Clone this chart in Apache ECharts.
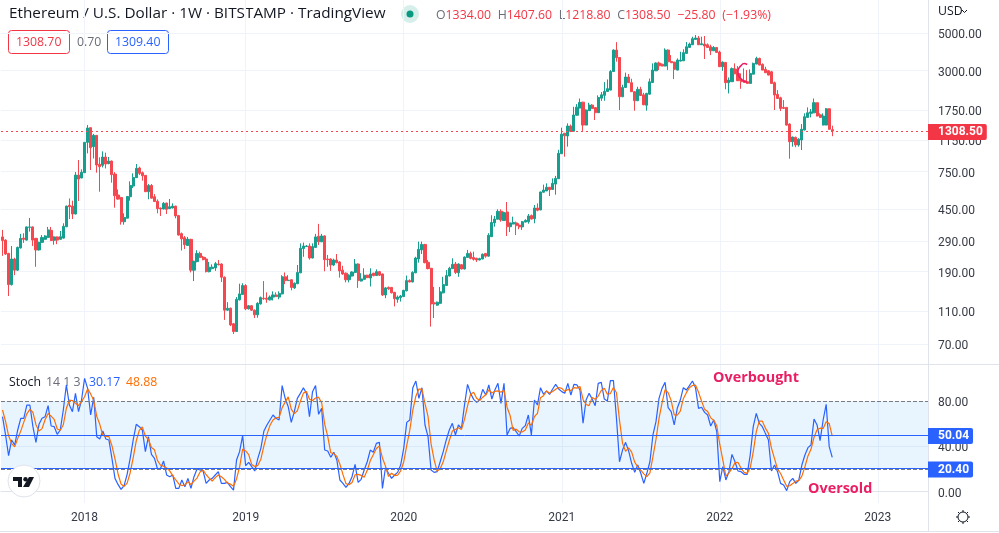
<!DOCTYPE html>
<html>
<head>
<meta charset="utf-8">
<title>ETHUSD 1W</title>
<script src="https://cdn.jsdelivr.net/npm/echarts@6/dist/echarts.min.js"></script>
<style>
  html, body { margin: 0; padding: 0; background: #fff; }
  #chart { width: 999px; height: 533px; }
</style>
</head>
<body>
<div id="chart"></div>
<script>
var fontName = 'Roboto';
var upColor = '#189e8e';
var downColor = '#f44850';
var gridColor = '#f0f3fa';
var borderColor = '#e0e3eb';
var textColor = '#363a45';
var blue = '#2962ff';
var orange = '#ff6d00';
var pink = '#e91e63';

// weekly bars: open, close, low, high
var candles = [
  [306,291,236,337],[293,242,239,296],[244,159,136,246],[159,226,157,270],[226,194,181,230],[194,265,192,268],
  [263,300,261,319],[301,296,282,322],[293,351,291,353],[349,351,329,397],[351,293,270,353],[300,256,203,302],
  [256,284,254,286],[284,304,282,314],[296,310,294,314],[304,337,302,351],[335,291,289,351],[292,306,275,309],
  [306,293,277,308],[296,307,294,332],[301,354,299,369],[352,467,350,470],[472,463,391,519],[467,419,391,503],
  [419,715,417,746],[715,677,501,879],[687,743,685,773],[739,1120,737,1125],[1120,1363,963,1422],[1370,1041,766,1375],
  [1056,1233,898,1258],[1233,821,739,1238],[829,802,569,912],[817,916,794,990],[916,832,783,972],[836,867,830,916],
  [867,719,644,872],[725,539,457,745],[544,514,510,587],[526,377,362,530],[377,400,362,423],[396,533,394,536],
  [531,620,503,656],[615,692,598,732],[690,784,688,832],[788,732,715,802],[738,708,662,751],[712,569,567,715],
  [569,620,513,632],[620,521,519,632],[531,497,495,551],[499,451,423,512],[455,449,408,457],[449,485,447,494],
  [487,447,419,489],[451,463,449,515],[455,467,453,485],[467,408,395,469],[410,314,312,414],[320,298,254,325],
  [303,275,259,310],[272,297,270,306],[296,194,188,298],[194,219,167,221],[218,244,216,255],[244,231,229,250],
  [232,224,222,236],[226,190,188,232],[190,202,188,217],[198,202,196,210],[200,212,192,217],[211,209,207,223],
  [211,176,165,213],[176,112,98,178],[112,115,111,125],[115,91.5,90,116],[93,83.5,80.8,94],[83.5,130,83,134],
  [129,140,128,161],[139,157,138,162],[157,114,112,160],[114,119,113,120],[119,112,111,120],[112,105,100.5,113],
  [105,123,101,125],[122,133,121,135],[132,131,129,167],[132,130,124,143],[129,134,128,137],[134,138,128,145],
  [138,135,134,143],[134,141,130,145],[140,177,139,181],[177,168,160,188],[168,169,167,181],[170,153,147,171],
  [152,162,150,164],[161,188,160,208],[187,262,186,280],[261,270,233,283],[268,270,267,274],[270,229,224,280],
  [229,268,228,280],[265,306,264,319],[309,286,274,366],[286,310,285,319],[310,224,191,313],[226,224,203,239],
  [226,208,192,228],[208,223,205,227],[223,215,213,242],[217,192,175,219],[194,184,182,206],[186,170,164,188],
  [170,181,164,183],[179,189,178,191],[188,211,186,226],[211,168,152,213],[167,172,166,186],[171,181,170,199],
  [181,175,174,182],[174,184,155,199],[186,180,178,187],[180,190,179,196],[190,181,179,192],[184,138,136,185],
  [138,152,132,154],[153,150,148,155],[153,142,141,154],[143,131,118,144],[130,134,124,137],[133,136,126,138],
  [135,147,134,148],[146,168,145,180],[168,165,164,171],[165,188,164,191],[187,229,186,233],[226,258,215,287],
  [256,276,242,287],[276,215,213,278],[216,198,196,223],[199,122,89.4,200],[124,122,100.5,154],[120,125,119,126],
  [123,144,122,154],[142,159,141,177],[157,180,156,194],[179,199,178,203],[198,210,197,228],[211,188,184,217],
  [187,211,177,213],[209,197,196,211],[197,232,196,234],[231,244,230,256],[244,228,225,250],[231,225,221,250],
  [228,223,217,230],[223,227,222,230],[226,241,225,244],[244,235,230,245],[235,313,234,322],[307,373,306,412],
  [371,391,352,408],[390,435,389,447],[435,386,377,447],[383,427,382,433],[431,352,310,494],[352,371,327,373],
  [365,373,364,404],[371,357,314,378],[360,351,340,369],[351,377,337,381],[375,384,374,390],[377,408,367,419],
  [410,391,389,416],[393,455,369,474],[455,441,435,485],[443,567,442,569],[565,582,562,627],[575,605,574,638],
  [605,585,536,607],[587,638,586,683],[632,683,546,707],[680,963,678,1012],[958,1253,957,1370],[1270,1225,920,1272],
  [1222,1402,1056,1454],[1402,1302,1290,1430],[1305,1630,1300,1825],[1625,1815,1620,1893],[1795,1937,1790,2045],[1945,1420,1310,1950],
  [1420,1746,1415,1762],[1730,1868,1725,1928],[1868,1780,1775,1893],[1805,1683,1522,1810],[1683,2075,1680,2135],[2055,2150,1980,2235],
  [2135,2255,1983,2560],[2250,2340,2240,2655],[2295,2960,2290,3020],[2960,3975,2950,4015],[3975,3575,3390,4430],[3590,2094,1746,3600],
  [2094,2380,2085,2470],[2380,2745,2370,2915],[2745,2540,2530,2860],[2540,2245,2235,2680],[2245,1983,1730,2260],[1983,2320,1975,2402],
  [2320,2130,2120,2402],[2150,1875,1865,2210],[1865,2192,1730,2210],[2170,2570,2160,2690],[2545,3020,2540,3310],[2990,3325,2985,3360],
  [3325,3205,3020,3390],[3275,3190,3180,3310],[3190,3975,3180,4070],[3975,3385,3020,4015],[3400,3340,3330,3710],[3370,3050,2670,3380],
  [3020,3465,3010,3545],[3415,3465,3405,3885],[3430,3835,3420,4015],[3797,4161,3790,4440],[4120,4315,4110,4400],[4275,4645,4265,4774],
  [4600,4690,4590,4885],[4690,4275,4265,4820],[4275,4335,4265,4774],[4315,4200,3515,4820],[4275,4120,4110,4356],[4161,3935,3710,4275],
  [3935,4120,3925,4200],[4120,3850,3840,4130],[3870,3162,3150,3940],[3162,3370,2990,3400],[3355,2540,2320,3365],[2540,2633,2192,2730],
  [2575,3080,2565,3130],[3065,2870,2860,3310],[2885,2610,2600,3190],[2633,2575,2335,2885],[2610,2550,2540,3090],[2575,2515,2505,3020],
  [2515,2885,2505,3050],[2855,3310,2845,3345],[3280,3545,3270,3627],[3545,3235,3225,3580],[3265,3020,3010,3310],[3050,2910,2900,3162],
  [2990,2820,2810,3020],[2950,2515,2505,2990],[2540,2145,1746,2580],[2165,2045,2035,2295],[2065,1785,1722,2094],[1810,1785,1775,2000],
  [1810,1420,1410,1815],[1440,1130,895,1454],[1130,1205,1056,1211],[1200,1080,1048,1211],[1080,1170,1056,1185],[1157,1340,1008,1440],
  [1327,1593,1320,1668],[1578,1680,1575,1810],[1668,1700,1578,1770],[1680,1930,1675,2045],[1930,1608,1600,1935],[1635,1578,1570,1670],
  [1420,1608,1415,1668],[1420,1775,1415,1795],[1775,1340,1335,1790],[1334,1308.5,1218.8,1407.6]
];

var stochK = [
  66.1,50,31.7,45.6,41.1,54.4,64.7,64.7,76.4,76.4,57.3,43.5,59.4,64.7,66.1,75.8,57.9,57.3,50.6,54.4,
  72,94.1,76.4,70.5,86.7,70.5,80.8,99.9,91.1,67.6,83.2,48.5,46.4,53.5,46.4,45.6,29.4,11.7,6.4,2,
  5.3,15.3,29.4,45.6,59.4,57.3,54.4,35.3,48.5,32.9,29.4,20,20.6,27,14.7,13.2,14.7,2.9,2.9,10.3,
  4.4,11.7,2.9,13.2,20,19.1,18.2,7.3,10.3,11.7,14.7,17.6,7.3,7.3,8.2,4.4,1.4,27.9,35.3,49.4,
  22.9,25.9,22,18.2,29.4,38.2,53.5,58.8,63.2,67.6,64.7,63.2,93.5,82.3,74.9,61.1,70.5,82.3,86.7,91.7,
  86.7,66.1,88.2,93.5,68.2,73.5,36.7,35.9,30.3,34.7,27.9,10.3,7.3,3.8,7.3,13.2,24.1,8.2,10.9,19.1,
  26.4,36.7,34.7,42.6,43.5,2.9,21.1,16.2,11.7,14.7,17,23.5,38.2,61.1,63.2,91.7,97.6,82.3,91.7,58.8,
  48.5,19.1,17,17.6,26.4,35.3,45.6,54.4,60.3,50,58.8,55.8,76.4,94.6,86.7,81.4,78.8,80.8,90.2,85.2,
  94.1,81.7,89.6,95.5,77.9,95.5,50,55.8,56.4,52.9,49.1,55.8,58.2,67.6,50,80.8,76.4,91.7,85.8,88.8,
  85.8,90.5,94.6,90.5,88.2,86.7,95.5,85.2,94.6,94.1,89.6,60.3,80.8,86.7,81.7,75.8,95.5,96.4,81.7,79.9,
  97.9,97.9,64.7,26.4,36.7,43.5,35.9,25,17,23.5,16.2,7.3,16.2,26.4,50,61.7,82.3,91.1,96.4,74.1,
  70.5,58.8,73.5,80.8,91.7,89.6,93.5,97.6,91.7,73.5,74.4,69.9,67.6,57.9,63.2,52.9,8.8,22,10.3,17.6,
  32.9,26.4,18.2,17.6,15.3,15.3,32.3,57.3,69.1,60.3,57.3,51.4,45.6,18.2,23.5,17.6,7.3,5.9,0.9,8.8,
  11.7,7.3,10.3,23.5,32.3,38.8,41.1,64.1,58.8,45,63.2,77,39.7,30.17
];

var stochD = [
  72,62,49.3,42.4,39.5,47,53.4,61.3,68.6,72.5,70,59.1,53.4,55.6,63.4,68.9,66.6,63.7,55.3,54.1,
  59,73.5,80.8,80.4,77.9,75.9,79.3,83.7,90.6,86.2,80.6,66.4,59.4,49.5,48.8,48.5,40.5,28.9,15.8,6.7,
  4.6,7.5,16.7,30.1,44.8,54.1,57,49,46,38.9,36.9,27.4,23.3,22.5,20.8,18.3,14.2,10.3,6.8,5.4,
  5.9,8.8,6.3,9.3,12,17.4,19.1,14.9,12,9.3,12.4,14.7,13.2,10.8,7.6,6.6,4.7,11.2,21.6,37.5,
  35.9,32.7,23.9,22.1,23.2,28.6,40.4,50.5,58.5,63.2,65.2,65.5,74.1,79,83.6,72.8,68.8,71.3,79.8,86.9,
  88.4,81.5,80.4,82.6,83.3,78.4,59.5,48.7,34.3,33.6,31,24.3,15.2,7.1,6.1,8.1,14.9,15.2,14.4,12.7,
  18.8,27.4,32.6,38,40.3,29.7,22.5,13.4,16.3,14.2,14.5,18.4,26.2,40.9,54.2,72,84.2,90.5,90.5,77.6,
  66.3,42.1,28.2,17.9,20.3,26.3,35.9,45.1,53.4,54.9,56.4,54.9,63.7,75.6,85.9,87.6,82.3,80.3,83.3,85.4,
  89.8,87,88.5,88.9,87.7,89.6,74.5,67.1,54.1,55.1,52.8,52.6,54.4,60.5,58.6,66.1,69.1,82.9,84.6,88.8,
  86.8,88.4,90.3,91.9,91.1,88.5,90.1,89.1,91.8,91.3,92.8,81.3,76.9,75.9,83.1,81.4,84.3,89.2,91.2,86,
  86.5,91.9,87.2,63,42.6,35.5,38.7,34.8,26,21.8,18.9,15.7,13.3,16.6,30.9,46,64.7,78.4,90,87.2,
  80.3,67.8,67.5,71,82,87.3,91.6,93.6,94,87.6,79.9,72.6,70.6,65.1,62.9,58,41.6,27.9,13.7,16.6,
  20.3,25.6,25.8,20.7,17,16.1,21,35,53,62.2,62.2,56,51.4,38.4,29.1,19.8,16,10.3,4.7,5.2,
  7.1,9.3,9.8,13.7,22,31.5,37.3,48,54.6,56,55.7,61.7,60,48.88
];

// pen scribble left on the chart, [bar index, price]
var scribble = [[245,3260],[244,3300],[243,3215],[242,2990],[242,2870],[243,2680],[244,2590],[245,2565]];

// weekly axis, runs on past the last bar
var dates = [];
for (var i = 0; i < 305; i++) {
  dates.push(new Date(Date.UTC(2017, 5, 26 + i * 7)).toISOString().slice(0, 10));
}
function isYearStart(index) {
  var d = dates[index];
  return d.slice(5, 7) === '01' && Number(d.slice(8)) <= 7;
}

var yearLine = {
  show: true,
  alignWithLabel: true,
  interval: function (index) { return isYearStart(index); },
  lineStyle: { color: gridColor, width: 1 }
};

// tick label nudged down a little, as in the original
var priceLabel = {
  formatter: function (v) { return '{a|' + Number(v).toFixed(2) + '}'; },
  rich: { a: { color: textColor, fontSize: 12, fontFamily: fontName, padding: [4, 0, 0, 0] } },
  margin: 10
};

function tagLabel(text, color) {
  return {
    show: true, position: 'end', distance: 0, offset: [0, 1], formatter: text, color: '#fff', fontWeight: 'bold',
    fontSize: 12, fontFamily: fontName, backgroundColor: color, padding: [2, 4, 2, 10], borderRadius: [0, 2, 2, 0]
  };
}

function gearRay(a, b, c, d) {
  return { type: 'line', shape: { x1: a, y1: b, x2: c, y2: d }, style: { stroke: '#131722', lineWidth: 1 } };
}

function legendText(x, y, text, color) {
  return { type: 'text', x: x, y: y, style: { text: text, fill: color, font: '12.3px "Open Sans"' } };
}

var option = {
  animation: false,
  backgroundColor: '#fff',
  textStyle: { fontFamily: fontName },
  grid: [
    { left: 1, width: 927, top: 0, height: 364 },
    { left: 1, width: 927, top: 365, height: 138 }
  ],
  xAxis: [
    {
      type: 'category', gridIndex: 0, data: dates,
      axisLine: { show: false }, axisTick: { show: false }, axisLabel: { show: false },
      splitLine: yearLine
    },
    {
      type: 'category', gridIndex: 1, data: dates,
      axisLine: { show: true, lineStyle: { color: borderColor } },
      axisTick: { show: false },
      axisLabel: {
        interval: function (index) { return isYearStart(index); },
        formatter: function (value) { return value.slice(0, 4); },
        color: textColor, fontSize: 12, margin: 9, fontFamily: fontName
      },
      splitLine: yearLine
    }
  ],
  yAxis: [
    {
      type: 'log', logBase: 10, gridIndex: 0, position: 'right', min: 53.5, max: 7900,
      axisLine: { show: true, lineStyle: { color: borderColor } },
      axisTick: { show: false, customValues: [5000, 3000, 1750, 1150, 750, 450, 290, 190, 110, 70] },
      axisLabel: Object.assign({ customValues: [5000, 3000, 1750, 1150, 750, 450, 290, 190, 110, 70] }, priceLabel),
      splitLine: { show: true, lineStyle: { color: gridColor, width: 1 } }
    },
    {
      type: 'value', gridIndex: 1, position: 'right', min: -10, max: 111.7,
      axisLine: { show: true, lineStyle: { color: borderColor } },
      axisTick: { show: false, customValues: [0, 40] },
      axisLabel: Object.assign({ customValues: [0, 40, 80] }, priceLabel),
      splitLine: { show: true, lineStyle: { color: gridColor, width: 1 } }
    }
  ],
  series: [
    {
      name: 'ETHUSD', type: 'candlestick', xAxisIndex: 0, yAxisIndex: 0,
      data: candles, barWidth: 2.6, silent: true,
      itemStyle: { color: upColor, color0: downColor, borderColor: upColor, borderColor0: downColor, borderWidth: 1 },
      markLine: {
        silent: true, symbol: 'none',
        data: [{
          yAxis: 1308.5,
          lineStyle: { color: downColor, type: [2, 3], width: 1.2 },
          label: tagLabel('1308.50', '#f23645')
        }]
      }
    },
    {
      name: 'scribble', type: 'line', xAxisIndex: 0, yAxisIndex: 0, data: scribble,
      smooth: true, showSymbol: false, silent: true,
      lineStyle: { color: pink, width: 1.5 }
    },
    {
      name: '%K', type: 'line', xAxisIndex: 1, yAxisIndex: 1, data: stochK,
      showSymbol: false, silent: true, lineStyle: { color: blue, width: 1.2 },
      markArea: {
        silent: true,
        itemStyle: { color: 'rgba(33,150,243,0.1)' },
        data: [[{ yAxis: 80 }, { yAxis: 20 }]]
      },
      markLine: {
        silent: true, symbol: 'none',
        data: [
          { yAxis: 80, lineStyle: { color: '#787b86', type: 'dashed', width: 1 }, label: { show: false } },
          { yAxis: 20, lineStyle: { color: '#787b86', type: 'dashed', width: 1 }, label: { show: false } },
          { yAxis: 50.04, lineStyle: { color: blue, type: 'solid', width: 1 }, label: tagLabel('50.04', blue) },
          { yAxis: 20.4, lineStyle: { color: blue, type: 'solid', width: 1 }, label: tagLabel('20.40', blue) }
        ]
      }
    },
    {
      name: '%D', type: 'line', xAxisIndex: 1, yAxisIndex: 1, data: stochD,
      showSymbol: false, silent: true, lineStyle: { color: orange, width: 1.2 }
    }
  ],
  graphic: [
    { type: 'line', shape: { x1: 0, y1: 364.5, x2: 999, y2: 364.5 }, style: { stroke: borderColor }, silent: true },
    { type: 'line', shape: { x1: 0, y1: 531.5, x2: 999, y2: 531.5 }, style: { stroke: borderColor }, silent: true },
    { type: 'line', shape: { x1: 928.5, y1: 0, x2: 928.5, y2: 531 }, style: { stroke: borderColor }, silent: true },

    {
      type: 'text', x: 9, y: 6,
      style: {
        text: 'Ethereum / U.S. Dollar · 1W · BITSTAMP · TradingView',
        fill: '#131722', font: '15.3px "Open Sans"'
      }
    },
    { type: 'circle', shape: { cx: 410, cy: 14, r: 9 }, style: { fill: '#d6efea' } },
    { type: 'circle', shape: { cx: 410, cy: 14, r: 3.5 }, style: { fill: '#089981' } },
    {
      type: 'text', x: 436, y: 9,
      style: {
        rich: {
          g: { fill: '#6a6d78', font: '12.3px "Open Sans"' },
          r: { fill: '#f23645', font: '12.3px "Open Sans"' }
        },
        text: '{g|O}{r|1334.00}  {g|H}{r|1407.60}  {g|L}{r|1218.80}  {g|C}{r|1308.50}  {r|−25.80}  {r|(−1.93%)}'
      }
    },

    { type: 'rect', shape: { x: 8.5, y: 30.5, width: 61, height: 23, r: 3 }, style: { fill: '#fff', stroke: '#f23645' } },
    legendText(16, 36, '1308.70', '#f23645'),
    legendText(77, 36, '0.70', '#6a6d78'),
    { type: 'rect', shape: { x: 107.5, y: 30.5, width: 61, height: 23, r: 3 }, style: { fill: '#fff', stroke: blue } },
    legendText(115, 36, '1309.40', blue),

    legendText(938, 5, 'USD', '#131722'),
    { type: 'polyline', shape: { points: [[962, 10], [964.5, 12.5], [967, 10]] }, style: { stroke: '#131722', fill: 'none' } },

    legendText(9, 376, 'Stoch', '#131722'),
    legendText(46, 376, '14 1 3', '#6a6d78'),
    legendText(89, 376, '30.17', blue),
    legendText(126, 376, '48.88', orange),
    { type: 'text', x: 713, y: 371, z: 20, style: { text: 'Overbought', fill: pink, font: 'bold 14.4px "Open Sans"' } },
    { type: 'text', x: 808, y: 482, z: 20, style: { text: 'Oversold', fill: pink, font: 'bold 14.4px "Open Sans"' } },

    { type: 'circle', z: 20, shape: { cx: 24, cy: 481, r: 16 }, style: { fill: '#fff', stroke: borderColor, lineWidth: 1 } },
    { type: 'polygon', z: 21, shape: { points: [[13, 477], [22, 477], [22, 487], [18, 487], [18, 481], [13, 481]] }, style: { fill: '#131722' } },
    { type: 'circle', z: 21, shape: { cx: 25.5, cy: 479.2, r: 2.2 }, style: { fill: '#131722' } },
    { type: 'polygon', z: 21, shape: { points: [[29, 477], [34, 477], [29, 487], [23, 487]] }, style: { fill: '#131722' } },

    { type: 'circle', shape: { cx: 963, cy: 517, r: 5 }, style: { fill: 'none', stroke: '#131722', lineWidth: 1 } },
    gearRay(963, 510, 963, 512),
    gearRay(963, 522, 963, 524),
    gearRay(956, 517, 958, 517),
    gearRay(968, 517, 970, 517),
    gearRay(958, 512, 959.5, 513.5),
    gearRay(966.5, 520.5, 968, 522),
    gearRay(968, 512, 966.5, 513.5),
    gearRay(959.5, 520.5, 958, 522)
  ]
};

var myChart = echarts.init(document.getElementById('chart'));
myChart.setOption(option);

window.addEventListener('resize', function () {
  myChart.resize();
});
</script>
</body>
</html>
